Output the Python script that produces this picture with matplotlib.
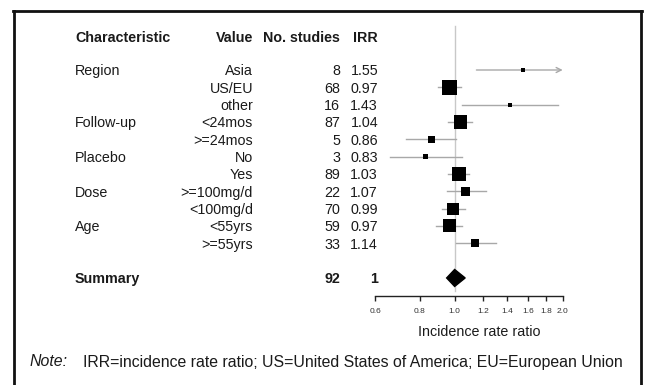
import matplotlib
matplotlib.use("Agg")
import matplotlib.pyplot as plt
from matplotlib.transforms import blended_transform_factory
from matplotlib.patches import Polygon
from matplotlib.lines import Line2D
import numpy as np

# ---------------- data ----------------
headers = ["Characteristic", "Value", "No. studies", "IRR"]
characteristics = ["Region", "", "", "Follow-up", "", "Placebo", "", "Dose", "", "Age", ""]
values = ["Asia", "US/EU", "other", "<24mos", ">=24mos", "No", "Yes",
          ">=100mg/d", "<100mg/d", "<55yrs", ">=55yrs"]
n_studies = [8, 68, 16, 87, 5, 3, 89, 22, 70, 59, 33]
irr = [1.55, 0.97, 1.43, 1.04, 0.86, 0.83, 1.03, 1.07, 0.99, 0.97, 1.14]
ci_low = [1.15, 0.90, 1.05, 0.96, 0.73, 0.66, 0.96, 0.95, 0.92, 0.89, 1.01]
ci_high = [2.30, 1.04, 1.94, 1.12, 1.01, 1.05, 1.10, 1.22, 1.07, 1.05, 1.30]
weights = [7, 100, 7, 79, 22, 10, 83, 34, 64, 75, 26]

summary_label = "Summary"
summary_n = 92
summary_irr_text = "1"
summary_irr = 1.0
summary_low = 0.95
summary_high = 1.07

x_ticks = [0.6, 0.8, 1.0, 1.2, 1.4, 1.6, 1.8, 2.0]
x_tick_labels = ["0.6", "0.8", "1.0", "1.2", "1.4", "1.6", "1.8", "2.0"]
x_label = "Incidence rate ratio"
note_label = "Note:"
note_text = "IRR=incidence rate ratio; US=United States of America; EU=European Union"

# ---------------- style ----------------
plt.rcParams['font.family'] = ['Liberation Sans', 'DejaVu Sans']
W, H, DPI = 645, 385, 100
TXT = "#1a1a1a"
FS = 10.3
FS_NOTE = 11.4

fig = plt.figure(figsize=(W / DPI, H / DPI), dpi=DPI)
fig.patch.set_facecolor("white")

def fx(px):
    return px / W

def fy(py):
    return 1 - py / H

# axes: x log from 0.6 to 2.0, spanning px 375..562.7; rows 17.33 px apart, row 0 at px 70
row0, step = 70.0, 17.33
ax_top_px, ax_bot_px = 20.0, 296.0
ax = fig.add_axes([fx(375), fy(ax_bot_px), fx(562.7) - fx(375), (ax_bot_px - ax_top_px) / H])
ax.set_xscale("log")
ax.set_xlim(x_ticks[0], x_ticks[-1])
ax.set_ylim((ax_bot_px - row0) / step, (ax_top_px - row0) / step)
ax.patch.set_alpha(0)
for s in ["top", "right", "left"]:
    ax.spines[s].set_visible(False)
ax.spines["bottom"].set_linewidth(1.0)
ax.spines["bottom"].set_color("#222222")
ax.set_yticks([])
ax.set_xticks(x_ticks)
ax.set_xticklabels(x_tick_labels)
ax.xaxis.set_minor_locator(matplotlib.ticker.NullLocator())
ax.tick_params(axis="x", length=3.5, width=1.0, color="#222222", labelsize=6.0,
               labelcolor="#333333", pad=5)
ax.set_xlabel(x_label, fontsize=FS, color=TXT, labelpad=4)
ax.xaxis.set_label_coords((479.5 - 375) / (562.7 - 375), -0.105)

rows = np.arange(len(values))
summary_row = len(values) + 1
header_row = -1.95

# reference line at 1
ax.plot([1.0, 1.0], [header_row - 0.6, summary_row + 0.75], color="#c8c8c8", lw=1.0,
        zorder=1, clip_on=False)

# CIs
xmax = x_ticks[-1]
for i in rows:
    if ci_high[i] > xmax:
        ax.annotate("", xy=(xmax, i), xytext=(ci_low[i], i),
                    arrowprops=dict(arrowstyle="->", color="#a8a8a8", lw=1.0,
                                    shrinkA=0, shrinkB=0, mutation_scale=9),
                    annotation_clip=False)
    else:
        ax.plot([ci_low[i], ci_high[i]], [i, i], color="#a8a8a8", lw=1.0, zorder=2,
                clip_on=False)

# boxes (side proportional to sqrt of weight)
side_pt = [15 * 0.72 * np.sqrt(w / 100.0) for w in weights]
ax.scatter(irr, rows, s=[sp ** 2 for sp in side_pt], marker="s", color="black",
           zorder=3, clip_on=False, linewidths=0)

# summary diamond
hh = 0.49
diamond = Polygon([[summary_low, summary_row], [summary_irr, summary_row - hh],
                   [summary_high, summary_row], [summary_irr, summary_row + hh]],
                  closed=True, color="black", zorder=3, clip_on=False)
ax.add_patch(diamond)

# ---------------- table text ----------------
tr = blended_transform_factory(fig.transFigure, ax.transData)
yoff = 0.08
col_char, col_val, col_n, col_irr = fx(75), fx(253), fx(340), fx(378)

fig.text(col_char, header_row + yoff, headers[0], transform=tr, ha="left", va="center",
         fontsize=FS, fontweight="bold", color=TXT)
fig.text(col_val, header_row + yoff, headers[1], transform=tr, ha="right", va="center",
         fontsize=FS, fontweight="bold", color=TXT)
fig.text(col_n, header_row + yoff, headers[2], transform=tr, ha="right", va="center",
         fontsize=FS, fontweight="bold", color=TXT)
fig.text(col_irr, header_row + yoff, headers[3], transform=tr, ha="right", va="center",
         fontsize=FS, fontweight="bold", color=TXT)

for i in rows:
    if characteristics[i]:
        fig.text(col_char, i + yoff, characteristics[i], transform=tr, ha="left",
                 va="center", fontsize=FS, color=TXT)
    fig.text(col_val, i + yoff, values[i], transform=tr, ha="right", va="center",
             fontsize=FS, color=TXT)
    fig.text(col_n, i + yoff, str(n_studies[i]), transform=tr, ha="right", va="center",
             fontsize=FS, color=TXT)
    fig.text(col_irr, i + yoff, f"{irr[i]:.2f}", transform=tr, ha="right", va="center",
             fontsize=FS, color=TXT)

fig.text(col_char, summary_row + yoff, summary_label, transform=tr, ha="left", va="center",
         fontsize=FS, fontweight="bold", color=TXT)
fig.text(col_n, summary_row + yoff, str(summary_n), transform=tr, ha="right", va="center",
         fontsize=FS, fontweight="bold", color=TXT)
fig.text(col_irr, summary_row + yoff, summary_irr_text, transform=tr, ha="right",
         va="center", fontsize=FS, fontweight="bold", color=TXT)

# note
fig.text(fx(30), fy(366.5), note_label, ha="left", va="baseline", fontsize=FS_NOTE,
         style="italic", color=TXT)
fig.text(fx(83), fy(366.5), note_text, ha="left", va="baseline", fontsize=FS_NOTE, color=TXT)

# frame (open at bottom)
lw = 2.0
fc = "#111111"
fig.add_artist(Line2D([fx(13.5), fx(13.5)], [fy(10.5), 0], lw=lw, color=fc))
fig.add_artist(Line2D([fx(640.5), fx(640.5)], [fy(10.5), 0], lw=lw, color=fc))
fig.add_artist(Line2D([fx(12.5), fx(641.5)], [fy(10.5), fy(10.5)], lw=lw, color=fc))

fig.savefig("out.png", dpi=DPI, facecolor="white")
